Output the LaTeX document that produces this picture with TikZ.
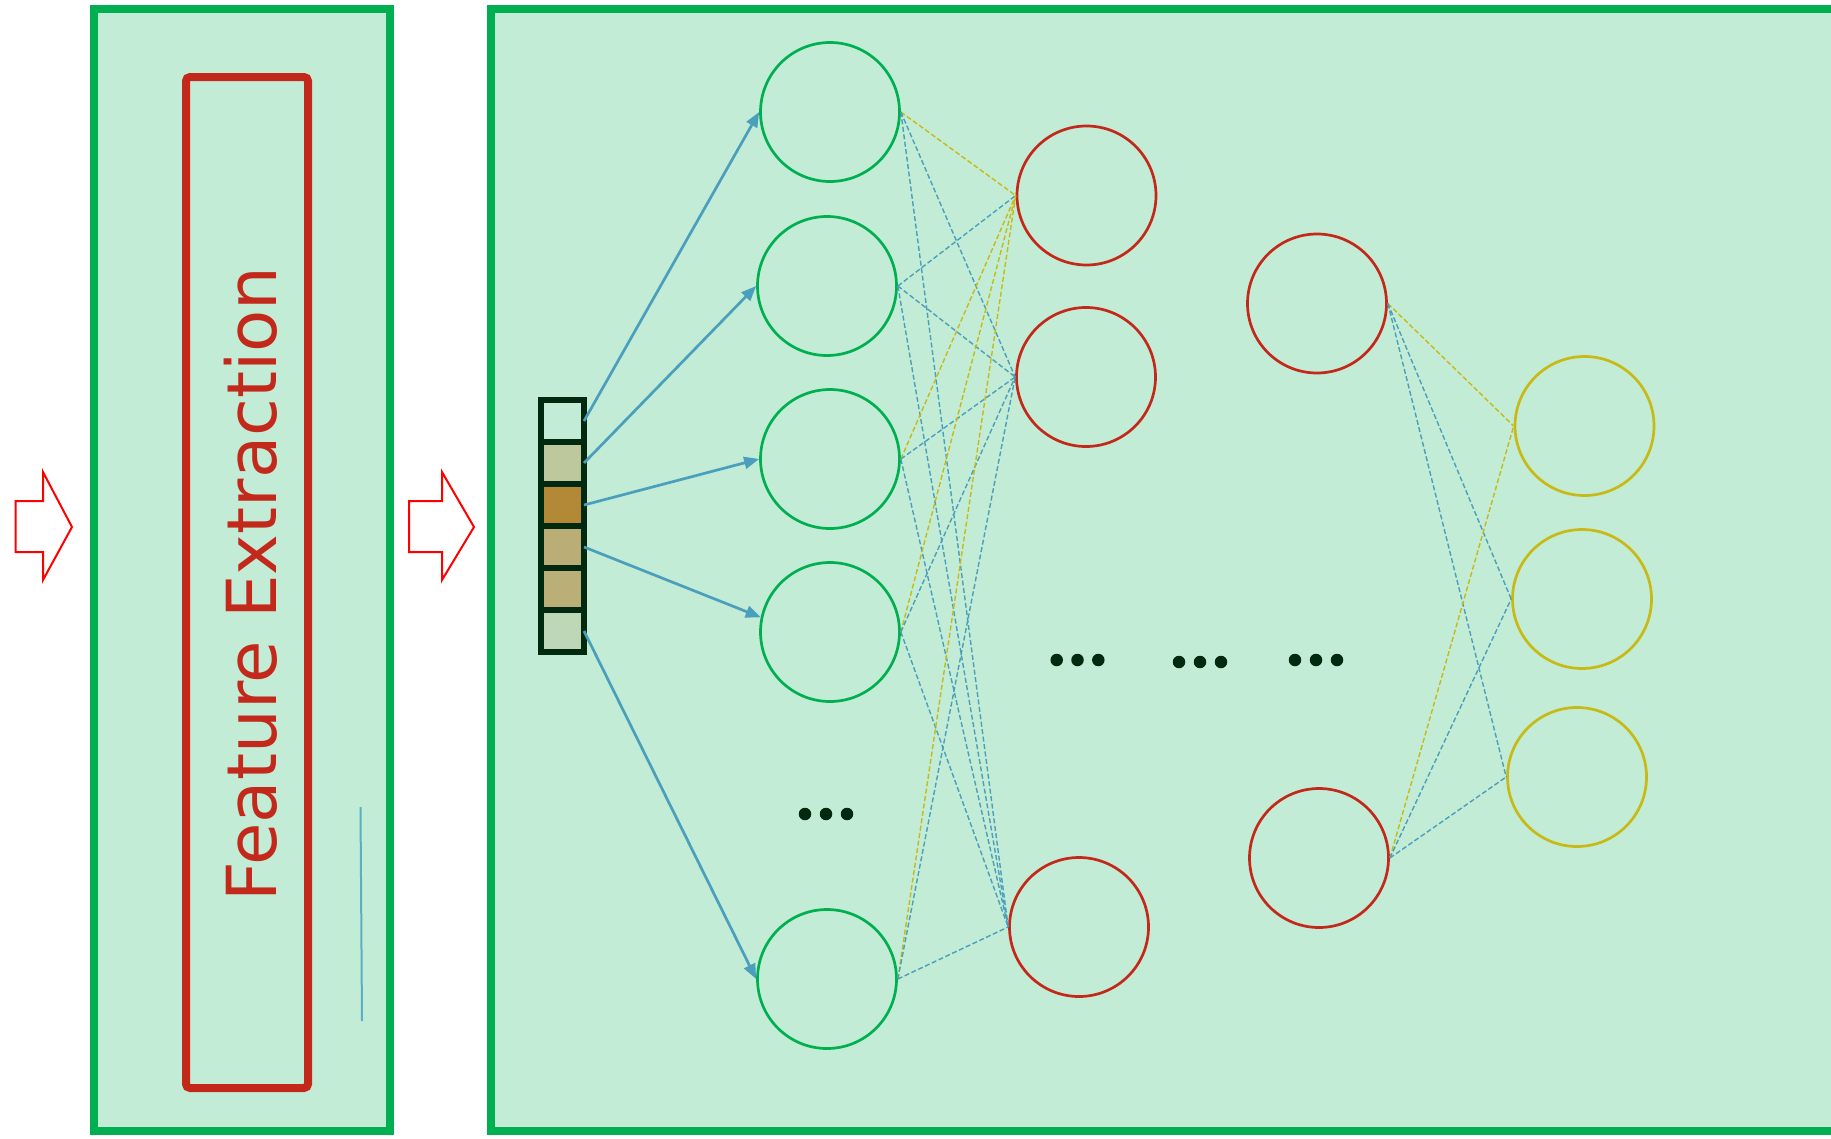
\documentclass[tikz,border=0pt]{standalone}
\usepackage{fontspec}
\setmainfont{DejaVu Sans}
\usetikzlibrary{arrows.meta}

\definecolor{mint}{HTML}{C3ECD6}
\definecolor{framegreen}{HTML}{00B050}
\definecolor{brick}{HTML}{C3291A}
\definecolor{mustard}{HTML}{C8BA16}
\definecolor{steel}{HTML}{4A9FBC}
\definecolor{ink}{HTML}{00290F}
\definecolor{lineblue}{HTML}{5AAFC4}
\definecolor{cellA}{HTML}{C3ECD6}
\definecolor{cellB}{HTML}{BEC89D}
\definecolor{cellC}{HTML}{B38837}
\definecolor{cellD}{HTML}{BAAD76}
\definecolor{cellE}{HTML}{BAB077}
\definecolor{cellF}{HTML}{BED8B7}

\begin{document}
\begin{tikzpicture}[x=1pt,y=-1pt,
  neuron/.style={circle, draw, line width=2.7pt, minimum size=139pt, inner sep=0pt},
  inneuron/.style={neuron, draw=framegreen},
  hidneuron/.style={neuron, draw=brick},
  outneuron/.style={neuron, draw=mustard},
  cell/.style={draw=ink, line width=6.2pt, minimum width=43pt, minimum height=42pt,
               inner sep=0pt, outer sep=0pt},
  feed/.style={draw=steel, line width=2.7pt, -{Triangle[length=15pt,width=12pt]}},
  wblue/.style={draw=steel, line width=1.4pt, dash pattern=on 5pt off 2.5pt},
  wyellow/.style={draw=mustard, line width=1.4pt, dash pattern=on 5pt off 2.5pt},
  dot/.style={circle, fill=ink, minimum size=12.5pt, inner sep=0pt},
  blockarrow/.style={draw=red, line width=2pt, fill=white, line join=miter},
  panel/.style={draw=framegreen, fill=mint, line width=8pt}
]
\useasboundingbox (0,0) rectangle (1831,1138);
\clip (0,0) rectangle (1831,1138);

% panels
\draw[panel] (94,9) rectangle (390,1130.5);
\draw[panel] (490.5,9) rectangle (1870,1130.5);

% feature extraction block
\draw[draw=brick, line width=8pt, rounded corners=4pt] (186,77) rectangle (308,1088);
\node[rotate=90, anchor=base, text=brick, inner sep=0pt,
      font=\fontsize{69}{82}\selectfont] (fe) at (276.5,584) {Feature Extraction};

% thin stroke inside the left panel
\coordinate (st) at (360.5,807);
\coordinate (sb) at (362,1021);
\draw[lineblue, line width=2pt] (st) -- (sb);

% block arrows
\draw[blockarrow] (15.7,501) -- (43,501) -- (43,472) -- (72,527) -- (43,580)
  -- (43,552) -- (15.7,552) -- cycle;
\draw[blockarrow] (409,501) -- (442,501) -- (442,472) -- (474,527) -- (442,580)
  -- (442,552) -- (409,552) -- cycle;

% neurons
\node[inneuron] (c1) at (830,112) {};
\node[inneuron] (c2) at (827,286) {};
\node[inneuron] (c3) at (830,459) {};
\node[inneuron] (c4) at (830,632) {};
\node[inneuron] (c5) at (827,979) {};

\node[hidneuron] (h1) at (1086.5,195.5) {};
\node[hidneuron] (h2) at (1086,377) {};
\node[hidneuron] (h3) at (1079,927) {};

\node[hidneuron] (k1) at (1317,303.5) {};
\node[hidneuron] (k2) at (1319,858) {};

\node[outneuron] (o1) at (1584.5,426) {};
\node[outneuron] (o2) at (1582,599) {};
\node[outneuron] (o3) at (1577,777) {};

% weights: input layer to first hidden layer
\draw[wyellow] (c1.east) -- (h1.west);
\draw[wblue]   (c1.east) -- (h2.west);
\draw[wblue]   (c1.east) -- (h3.west);
\draw[wblue]   (c2.east) -- (h1.west);
\draw[wblue]   (c2.east) -- (h2.west);
\draw[wblue]   (c2.east) -- (h3.west);
\draw[wyellow] (c3.east) -- (h1.west);
\draw[wblue]   (c3.east) -- (h2.west);
\draw[wblue]   (c3.east) -- (h3.west);
\draw[wyellow] (c4.east) -- (h1.west);
\draw[wblue]   (c4.east) -- (h2.west);
\draw[wblue]   (c4.east) -- (h3.west);
\draw[wyellow] (c5.east) -- (h1.west);
\draw[wblue]   (c5.east) -- (h2.west);
\draw[wblue]   (c5.east) -- (h3.west);

% weights: last hidden layer to outputs
\draw[wyellow] (k1.east) -- (o1.west);
\draw[wblue]   (k1.east) -- (o2.west);
\draw[wblue]   (k1.east) -- (o3.west);
\draw[wyellow] (k2.east) -- (o1.west);
\draw[wblue]   (k2.east) -- (o2.west);
\draw[wblue]   (k2.east) -- (o3.west);

% feature vector
\node[cell, fill=cellA] (v1) at (562.5,421) {};
\node[cell, fill=cellB] (v2) at (562.5,463) {};
\node[cell, fill=cellC] (v3) at (562.5,505) {};
\node[cell, fill=cellD] (v4) at (562.5,547) {};
\node[cell, fill=cellE] (v5) at (562.5,589) {};
\node[cell, fill=cellF] (v6) at (562.5,631) {};

% feature vector to input layer
\draw[feed] (v1.east) -- (c1.west);
\draw[feed] (v2.east) -- (c2.west);
\draw[feed] (v3.east) -- (c3.west);
\draw[feed] (v4.east) -- (c4.168);
\draw[feed] (v6.east) -- (c5.west);

% ellipses
\node[dot] (d1) at (805,814) {};
\node[dot] (d2) at (826,814) {};
\node[dot] (d3) at (847,814) {};
\node[dot] (e1) at (1056.7,660) {};
\node[dot] (e2) at (1077.5,660) {};
\node[dot] (e3) at (1098.3,660) {};
\node[dot] (f1) at (1179,662) {};
\node[dot] (f2) at (1200,662) {};
\node[dot] (f3) at (1221,662) {};
\node[dot] (g1) at (1295,660) {};
\node[dot] (g2) at (1316,660) {};
\node[dot] (g3) at (1337,660) {};
\end{tikzpicture}
\end{document}
